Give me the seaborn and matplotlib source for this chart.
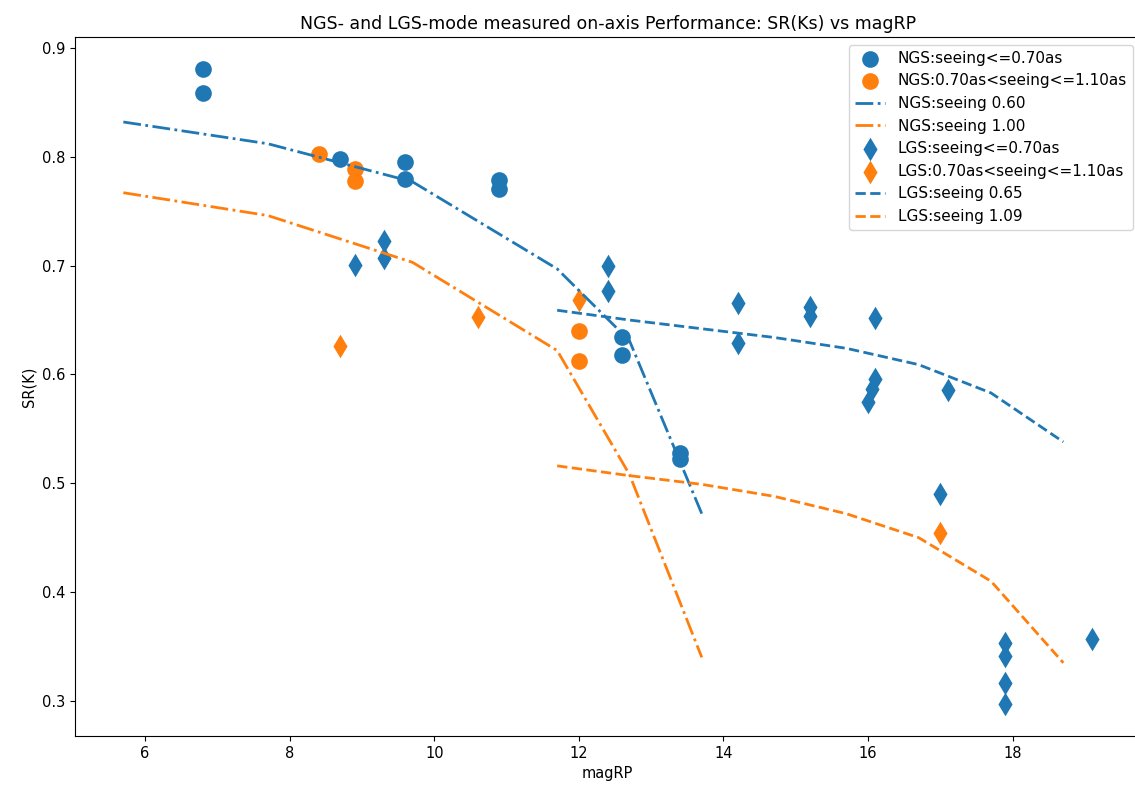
import matplotlib
matplotlib.use("Agg")
import matplotlib.pyplot as plt
import seaborn as sns

C0 = "#1f77b4"
C1 = "#ff7f0e"

# measured NGS points
ngs_good_mag = [6.8, 6.8, 8.7, 9.6, 9.6, 10.9, 10.9, 12.6, 12.6, 13.4, 13.4]
ngs_good_sr = [0.881, 0.859, 0.798, 0.795, 0.780, 0.779, 0.770, 0.634, 0.618, 0.528, 0.522]
ngs_med_mag = [8.4, 8.9, 8.9, 12.0, 12.0]
ngs_med_sr = [0.803, 0.789, 0.778, 0.640, 0.612]

# NGS model curves
ngs_model_mag = [5.7, 7.7, 9.7, 11.7, 12.7, 13.7]
ngs_model_060 = [0.832, 0.812, 0.777, 0.697, 0.631, 0.472]
ngs_model_100 = [0.767, 0.746, 0.703, 0.622, 0.508, 0.340]

# measured LGS points
lgs_good_mag = [8.9, 9.3, 9.3, 12.4, 12.4, 14.2, 14.2, 15.2, 15.2, 16.1, 16.1, 16.05, 16.0,
                17.1, 17.0, 17.9, 17.9, 17.9, 17.9, 19.1]
lgs_good_sr = [0.701, 0.723, 0.707, 0.700, 0.677, 0.666, 0.629, 0.662, 0.654, 0.652, 0.596, 0.587, 0.575,
               0.586, 0.490, 0.353, 0.341, 0.316, 0.297, 0.357]
lgs_med_mag = [8.7, 10.6, 12.0, 17.0]
lgs_med_sr = [0.626, 0.653, 0.668, 0.454]

# LGS model curves
lgs_model_mag = [11.7, 12.7, 13.7, 14.7, 15.7, 16.7, 17.7, 18.7]
lgs_model_065 = [0.659, 0.650, 0.642, 0.634, 0.624, 0.609, 0.583, 0.538]
lgs_model_109 = [0.516, 0.507, 0.499, 0.488, 0.472, 0.450, 0.410, 0.335]

fig, ax = plt.subplots(figsize=(11.35, 7.85), dpi=100)
# the original screenshot crops the right spine just off the edge
fig.subplots_adjust(left=0.066, right=1.005, top=0.953, bottom=0.0625)

sns.scatterplot(x=ngs_good_mag, y=ngs_good_sr, marker="o", s=144, color=C0, linewidth=0,
                label="NGS:seeing<=0.70as", ax=ax)
sns.scatterplot(x=ngs_med_mag, y=ngs_med_sr, marker="o", s=144, color=C1, linewidth=0,
                label="NGS:0.70as<seeing<=1.10as", ax=ax)
sns.lineplot(x=ngs_model_mag, y=ngs_model_060, color=C0, linestyle="-.", linewidth=2,
             label="NGS:seeing 0.60", ax=ax)
sns.lineplot(x=ngs_model_mag, y=ngs_model_100, color=C1, linestyle="-.", linewidth=2,
             label="NGS:seeing 1.00", ax=ax)
sns.scatterplot(x=lgs_good_mag, y=lgs_good_sr, marker="d", s=144, color=C0, linewidth=0,
                label="LGS:seeing<=0.70as", ax=ax)
sns.scatterplot(x=lgs_med_mag, y=lgs_med_sr, marker="d", s=144, color=C1, linewidth=0,
                label="LGS:0.70as<seeing<=1.10as", ax=ax)
sns.lineplot(x=lgs_model_mag, y=lgs_model_065, color=C0, linestyle="--", linewidth=2,
             label="LGS:seeing 0.65", ax=ax)
sns.lineplot(x=lgs_model_mag, y=lgs_model_109, color=C1, linestyle="--", linewidth=2,
             label="LGS:seeing 1.09", ax=ax)

ax.set_title("NGS- and LGS-mode measured on-axis Performance: SR(Ks) vs magRP", fontsize=12.5)
ax.set_xlabel("magRP", fontsize=10.5)
ax.set_ylabel("SR(K)", fontsize=10.5)
ax.tick_params(labelsize=10.5)
ax.legend(loc="upper right", fontsize=11)

plt.savefig("out.png", dpi=100)
